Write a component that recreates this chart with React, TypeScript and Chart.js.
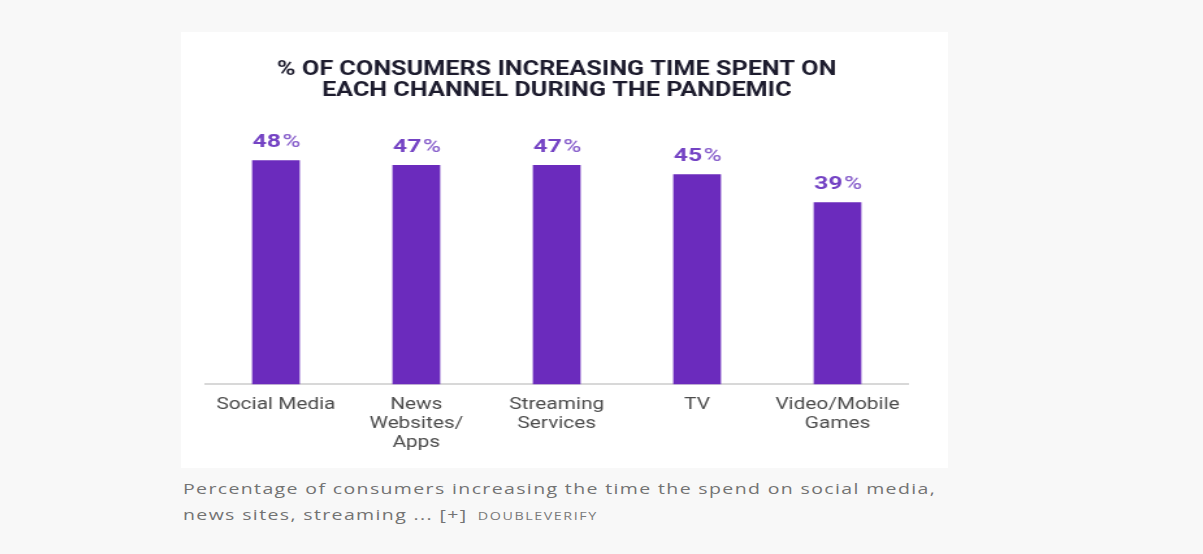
import React, { useEffect, useRef } from "react";
import { Chart, registerables } from "chart.js";

Chart.register(...registerables);

const categories: string[][] = [
  ["Social Media"],
  ["News", "Websites/", "Apps"],
  ["Streaming", "Services"],
  ["TV"],
  ["Video/Mobile", "Games"],
];
const values: number[] = [48, 47, 47, 45, 39];
const titleLines: string[] = [
  "% OF CONSUMERS INCREASING TIME SPENT ON",
  "EACH CHANNEL DURING THE PANDEMIC",
];
const captionLine1 = "Percentage of consumers increasing the time the spend on social media,";
const captionLine2 = "news sites, streaming ... [+]";
const credit = "DOUBLEVERIFY";

const BAR = "#6b2bbd";
const LABEL = "#7443c4";
const STRETCH = 1.3;
const CARD_W = 767;
const CARD_H = 436;
const INNER_W = Math.round(CARD_W / STRETCH);

const valueLabels = {
  id: "valueLabels",
  afterDatasetsDraw(chart: any) {
    const { ctx } = chart;
    const meta = chart.getDatasetMeta(0);
    ctx.save();
    ctx.textBaseline = "alphabetic";
    meta.data.forEach((bar: any, i: number) => {
      const num = String(values[i]);
      ctx.font = "bold 19px Roboto";
      const w1 = ctx.measureText(num).width;
      ctx.font = "500 19px Roboto";
      const w2 = ctx.measureText("%").width;
      const x0 = bar.x - (w1 + w2) / 2;
      const y = bar.y - 13;
      ctx.fillStyle = LABEL;
      ctx.font = "bold 19px Roboto";
      ctx.textAlign = "left";
      ctx.fillText(num, x0, y);
      ctx.fillStyle = "#8a62cc";
      ctx.font = "500 19px Roboto";
      ctx.fillText("%", x0 + w1 + 1, y);
    });
    ctx.restore();
  },
};

export default function App() {
  const ref = useRef<HTMLCanvasElement | null>(null);
  useEffect(() => {
    if (!ref.current) return;
    const chart = new Chart(ref.current, {
      type: "bar",
      data: {
        labels: categories,
        datasets: [
          {
            data: values,
            backgroundColor: BAR,
            barPercentage: 0.34,
            categoryPercentage: 1,
          },
        ],
      },
      options: {
        animation: false,
        responsive: false,
        layout: { padding: { left: 19, right: 31, top: 0, bottom: 4 } },
        plugins: {
          legend: { display: false },
          tooltip: { enabled: false },
          title: {
            display: true,
            text: titleLines,
            color: "#1d1c2e",
            font: { family: "Roboto", weight: "bold", size: 19.4, lineHeight: 1.1 },
            padding: { top: 27, bottom: 26 },
          },
        },
        scales: {
          x: {
            grid: { display: false, drawTicks: false },
            border: { display: true, color: "#d8d8d8", width: 2 },
            ticks: {
              color: "#4c4c4c",
              font: { family: "Roboto", size: 16, lineHeight: 1.2 },
              padding: 11,
              maxRotation: 0,
              autoSkip: false,
            },
          },
          y: {
            display: false,
            min: 0,
            max: 55,
          },
        },
      },
      plugins: [valueLabels],
    });
    return () => chart.destroy();
  }, []);

  return (
    <div
      style={{
        position: "fixed",
        inset: 0,
        background: "#f8f8f8",
        width: 1203,
        height: 554,
      }}
    >
      <div
        style={{
          position: "absolute",
          left: 181,
          top: 32,
          width: CARD_W,
          height: CARD_H,
          background: "#ffffff",
          overflow: "hidden",
        }}
      >
        <canvas
          ref={ref}
          width={INNER_W}
          height={CARD_H}
          style={{
            display: "block",
            width: INNER_W,
            height: CARD_H,
            transform: `scaleX(${CARD_W / INNER_W})`,
            transformOrigin: "0 0",
          }}
        />
      </div>
      <div
        style={{
          position: "absolute",
          left: 183,
          top: 475,
          fontFamily: "'Open Sans', sans-serif",
          fontSize: 15,
          letterSpacing: 1.05,
          color: "#737373",
          lineHeight: "26px",
          whiteSpace: "nowrap",
          transform: `scaleX(${STRETCH})`,
          transformOrigin: "0 0",
        }}
      >
        <div>{captionLine1}</div>
        <div>
          {captionLine2}
          <span style={{ fontSize: 11, letterSpacing: 1.2, marginLeft: 8, color: "#7a7a7a" }}>{credit}</span>
        </div>
      </div>
    </div>
  );
}
